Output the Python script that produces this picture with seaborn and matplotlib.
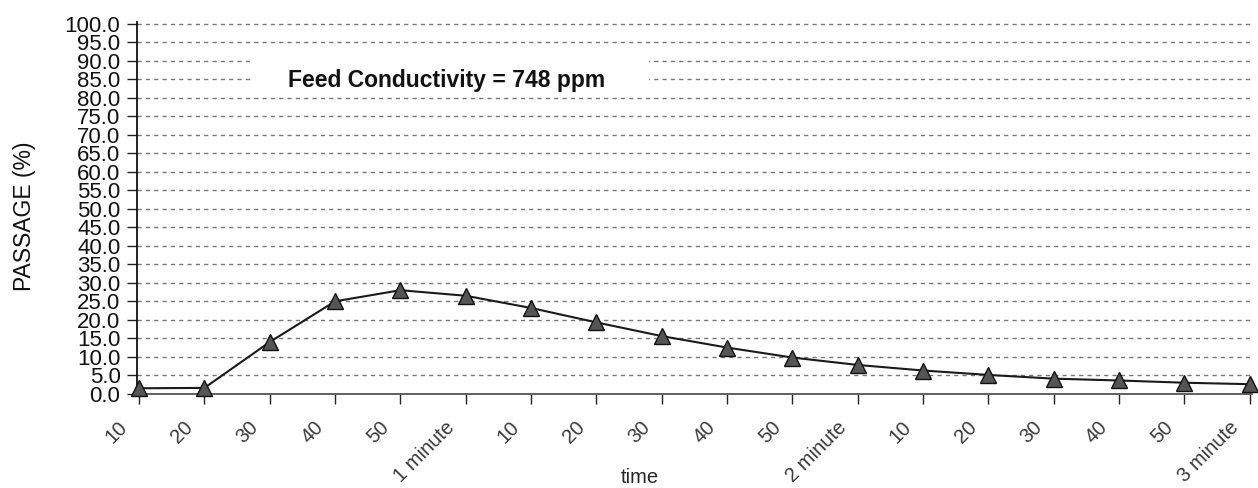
import numpy as np
import pandas as pd
import matplotlib
matplotlib.use("Agg")
import matplotlib.pyplot as plt
import matplotlib.transforms as mtransforms
import seaborn as sns
from matplotlib.patches import Rectangle

# time labels along the x axis (10 s steps)
time_labels = ["10", "20", "30", "40", "50", "1 minute",
               "10", "20", "30", "40", "50", "2 minute",
               "10", "20", "30", "40", "50", "3 minute"]
# salt passage in %
passage = [1.5, 1.6, 14.0, 25.0, 28.0, 26.5, 23.2, 19.3, 15.6, 12.5,
           9.8, 7.8, 6.3, 5.1, 4.1, 3.6, 3.0, 2.6]
feed_text = "Feed Conductivity = 748 ppm"

df = pd.DataFrame({"pos": np.arange(len(time_labels)), "passage": passage})

sns.set_style("white")
plt.rcParams["font.family"] = ["Liberation Sans", "DejaVu Sans"]

fig = plt.figure(figsize=(12.58, 4.88), dpi=100)
ax = fig.add_axes([0.109, 0.193, 0.886, 0.762])

sns.lineplot(data=df, x="pos", y="passage", ax=ax, color="#1a1a1a",
             linewidth=1.5, marker="^", markersize=12,
             markerfacecolor="#555555", markeredgecolor="#111111",
             markeredgewidth=1.0, zorder=5, clip_on=False)

ax.set_xlim(-0.03, len(time_labels) - 1 + 0.03)
ax.set_ylim(0, 100.5)
ax.set_yticks(np.arange(0, 101, 5))
ax.set_yticklabels([f"{v:.1f}" for v in np.arange(0, 101, 5)],
                   fontsize=16, color="#111111")
ax.set_xticks(df["pos"])
ax.set_xticklabels([])

# slanted time labels, set a bit left of and below each tick
shift = mtransforms.ScaledTranslation(-0.21, -0.24, fig.dpi_scale_trans)
for p, lab in zip(df["pos"], time_labels):
    ax.text(p, 0, lab, transform=ax.get_xaxis_transform() + shift,
            rotation=45, ha="right", va="top", rotation_mode="anchor",
            fontsize=14.5, color="#3a3a3a")

ax.grid(axis="y", linestyle=(0, (3, 3)), color="#777777", linewidth=1.0)
ax.grid(axis="x", visible=False)
ax.set_axisbelow(True)

for s in ["top", "right"]:
    ax.spines[s].set_visible(False)
ax.spines["left"].set_color("#111111")
ax.spines["left"].set_linewidth(1.3)
ax.spines["bottom"].set_color("#555555")
ax.spines["bottom"].set_linewidth(1.3)
ax.tick_params(axis="y", direction="out", length=7, width=1,
               color="#222222", left=True, pad=5)
ax.tick_params(axis="x", direction="out", length=7, width=1,
               color="#222222", bottom=True)

# white box behind the annotation
ax.add_patch(Rectangle((1.7, 82.5), 6.1, 10, facecolor="white",
                       edgecolor="none", zorder=2))
ax.text(4.7, 84.8, feed_text, ha="center", va="center", fontsize=16.5,
        fontweight="bold", color="#111111", zorder=3)

ax.set_xlabel("time", fontsize=14.5)
ax.xaxis.set_label_coords(0.451, -0.2)
ax.set_ylabel("PASSAGE (%)", fontsize=16.5, color="#111111")
ax.yaxis.set_label_coords(-0.091, 0.478)

fig.savefig("out.png", dpi=100)
